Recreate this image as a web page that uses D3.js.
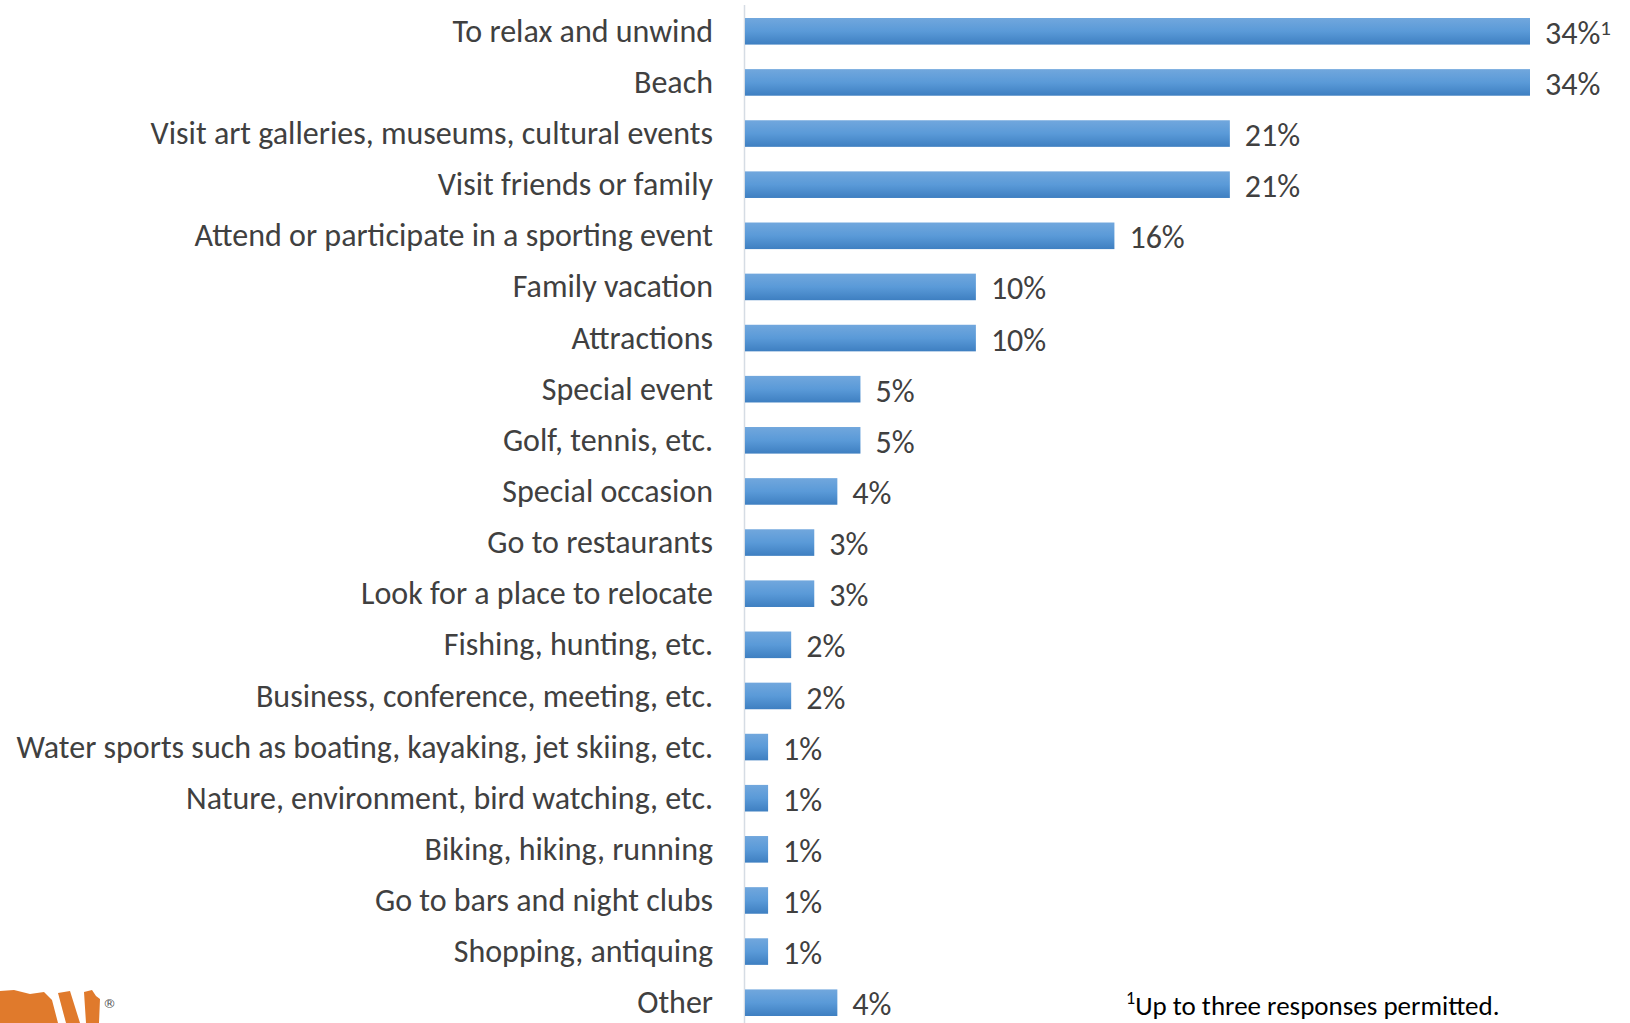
<!DOCTYPE html>
<html>
<head>
<meta charset="utf-8">
<script src="https://cdn.jsdelivr.net/npm/d3@7"></script>
<style>
  html, body { margin: 0; padding: 0; background: #fff; }
  svg { display: block; }
  text { font-family: Carlito, Calibri, "Open Sans", sans-serif; fill: #404040; }
</style>
</head>
<body>
<div id="chart"></div>
<script>
var categories = [
    'To relax and unwind',
    'Beach',
    'Visit art galleries, museums, cultural events',
    'Visit friends or family',
    'Attend or participate in a sporting event',
    'Family vacation',
    'Attractions',
    'Special event',
    'Golf, tennis, etc.',
    'Special occasion',
    'Go to restaurants',
    'Look for a place to relocate',
    'Fishing, hunting, etc.',
    'Business, conference, meeting, etc.',
    'Water sports such as boating, kayaking, jet skiing, etc.',
    'Nature, environment, bird watching, etc.',
    'Biking, hiking, running',
    'Go to bars and night clubs',
    'Shopping, antiquing',
    'Other'
];
var values = [34, 34, 21, 21, 16, 10, 10, 5, 5, 4, 3, 3, 2, 2, 1, 1, 1, 1, 1, 4];
var footnote = 'Up to three responses permitted.';

var width = 1630, height = 1023;
var svg = d3.select('#chart').append('svg')
    .attr('width', width).attr('height', height);

var defs = svg.append('defs');
var grad = defs.append('linearGradient')
    .attr('id', 'barGrad')
    .attr('x1', 0).attr('y1', 0).attr('x2', 0).attr('y2', 1);
grad.append('stop').attr('offset', '0%').attr('stop-color', '#71a7dd');
grad.append('stop').attr('offset', '50%').attr('stop-color', '#5a9ad8');
grad.append('stop').attr('offset', '100%').attr('stop-color', '#3e7fc1');

var x = d3.scaleLinear()
    .domain([0, 34])
    .range([745, 1530]);

var y = d3.scaleBand()
    .domain(categories)
    .range([18, 1016])
    .paddingInner(0.48)
    .paddingOuter(0);

// axis line
svg.append('line')
    .attr('x1', 744.5).attr('x2', 744.5)
    .attr('y1', 5).attr('y2', height)
    .attr('stroke', '#d5dce4')
    .attr('stroke-width', 1.5);

var fontSize = 32;

// category labels
svg.selectAll('.cat')
    .data(categories)
    .enter().append('text')
    .attr('class', 'cat')
    .attr('x', 713)
    .attr('y', function(d) { return y(d) + y.bandwidth() / 2; })
    .attr('dy', '0.33em')
    .attr('text-anchor', 'end')
    .style('font-size', fontSize + 'px')
    .text(function(d) { return d; });

// bars
svg.selectAll('.bar')
    .data(values)
    .enter().append('rect')
    .attr('class', 'bar')
    .attr('x', x(0))
    .attr('y', function(d, i) { return y(categories[i]); })
    .attr('width', function(d) { return x(d) - x(0); })
    .attr('height', y.bandwidth())
    .attr('fill', 'url(#barGrad)');

// value labels
var vals = svg.selectAll('.val')
    .data(values)
    .enter().append('text')
    .attr('class', 'val')
    .attr('x', function(d) { return x(d) + 15; })
    .attr('y', function(d, i) { return y(categories[i]) + y.bandwidth() / 2 + 2; })
    .attr('dy', '0.33em')
    .style('font-size', fontSize + 'px');
vals.append('tspan').text(function(d) { return d + '%'; });
vals.filter(function(d, i) { return i === 0; })
    .append('tspan')
    .attr('dy', '-0.4em')
    .style('font-size', '21px')
    .text('1');

// footnote
var fn = svg.append('text')
    .attr('x', 1126)
    .attr('y', 1011)
    .style('font-size', '27px')
    .style('fill', '#000');
fn.append('tspan').attr('dy', '-0.4em').style('font-size', '18px').text('1');
fn.append('tspan').attr('dy', '0.4em').text(footnote);

// logo fragment (bottom left)
var logo = svg.append('g').attr('fill', '#e07a2c');
logo.append('path')
    .attr('d', 'M0,991 L14,990 L30,994 L44,992 L52,1000 L58,1023 L0,1023 Z');
logo.append('path')
    .attr('d', 'M58,993 L70,991 L80,1023 L66,1023 Z');
logo.append('path')
    .attr('d', 'M84,992 L92,990 L96,996 L100,999 L99,1023 L86,1023 Z');
logo.append('text')
    .attr('x', 103).attr('y', 1008)
    .style('font-size', '13px')
    .style('font-family', 'DejaVu Sans')
    .style('fill', '#555')
    .text('®');
</script>
</body>
</html>
